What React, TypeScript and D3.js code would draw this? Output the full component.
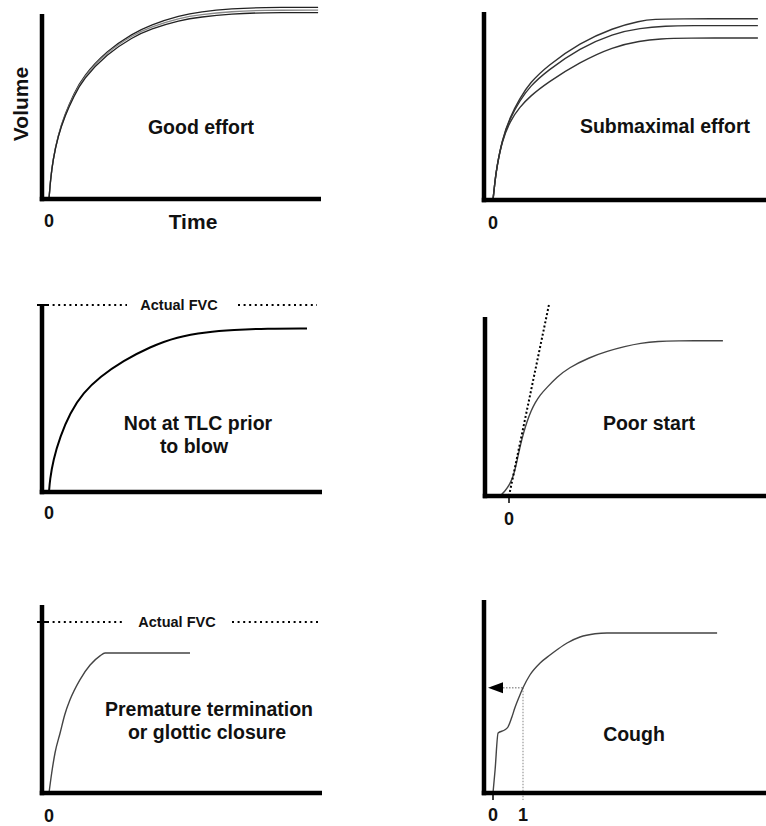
import { curveBasis, curveLinear, curveMonotoneX, line, scaleLinear } from "d3";
import type { CurveFactory } from "d3";
import type { ReactElement } from "react";

// [seconds, litres]
type Pt = readonly [number, number];

const goodEffortA: Pt[] = [
  [0, 0], [0.05, 0.48], [0.13, 0.98], [0.3, 1.59], [0.53, 2.12], [0.83, 2.63], [1.13, 3.06],
  [1.93, 3.71], [2.8, 4.14], [3.37, 4.35], [4.37, 4.59], [5.03, 4.68], [6.13, 4.76], [7.03, 4.79], [8.97, 4.79],
];
const goodEffortB: Pt[] = [
  [0, 0], [0.05, 0.475], [0.13, 0.975], [0.3, 1.575], [0.53, 2.1], [0.83, 2.6], [1.13, 3.03],
  [1.93, 3.68], [2.8, 4.1], [3.37, 4.3], [4.37, 4.53], [5.03, 4.61], [6.13, 4.69], [7.03, 4.72], [8.97, 4.72],
];
const goodEffortC: Pt[] = [
  [0, 0], [0.05, 0.47], [0.13, 0.97], [0.3, 1.565], [0.53, 2.08], [0.83, 2.57], [1.13, 2.99],
  [1.93, 3.63], [2.8, 4.05], [3.37, 4.25], [4.37, 4.47], [5.03, 4.55], [6.13, 4.63], [7.03, 4.66], [8.97, 4.66],
];

const submaxUpper: Pt[] = [
  [0, 0], [0.07, 0.5], [0.13, 0.83], [0.3, 1.5], [0.57, 2.08], [0.9, 2.55], [1.23, 2.93],
  [1.8, 3.35], [2.9, 3.93], [4.0, 4.3], [4.9, 4.48], [5.4, 4.52], [6.0, 4.53], [8.83, 4.53],
];
const submaxMiddle: Pt[] = [
  [0, 0], [0.07, 0.5], [0.13, 0.83], [0.3, 1.49], [0.57, 2.05], [0.9, 2.49], [1.23, 2.84],
  [1.8, 3.23], [2.9, 3.8], [4.0, 4.16], [4.9, 4.3], [5.8, 4.35], [6.4, 4.36], [8.83, 4.36],
];
const submaxLower: Pt[] = [
  [0, 0], [0.07, 0.5], [0.13, 0.83], [0.3, 1.47], [0.57, 1.98], [0.9, 2.33], [1.23, 2.59],
  [1.8, 2.93], [2.9, 3.45], [4.0, 3.83], [4.9, 3.98], [5.6, 4.03], [6.3, 4.05], [8.83, 4.05],
];

const notAtTlc: Pt[] = [
  [0, 0], [0.03, 0.3], [0.14, 0.8], [0.37, 1.38], [0.7, 1.98], [1.14, 2.48], [1.7, 2.88],
  [2.47, 3.28], [3.37, 3.63], [4.26, 3.88], [5.26, 4.0], [6.13, 4.05], [7.26, 4.09], [8.6, 4.09],
];
const notAtTlcFvc = 4.675;

const poorStart: Pt[] = [
  [-0.3, 0], [-0.13, 0.12], [0.03, 0.3], [0.15, 0.5], [0.27, 0.88], [0.37, 1.25], [0.5, 1.62],
  [0.6, 1.86], [0.73, 2.12], [0.87, 2.33], [1.03, 2.52], [1.27, 2.72], [1.6, 2.97], [1.97, 3.2],
  [2.7, 3.47], [3.27, 3.62], [3.87, 3.74], [4.37, 3.82], [5.0, 3.87], [5.47, 3.88], [7.13, 3.88],
];
const poorStartBackExtrapolation: Pt[] = [[0, 0], [1.33, 4.775]];

const premature: Pt[] = [
  [0, 0], [0.09, 0.5], [0.2, 1.0], [0.37, 1.5], [0.53, 1.97], [0.7, 2.33], [1.03, 2.83],
  [1.37, 3.2], [1.7, 3.43], [1.87, 3.5], [4.7, 3.5],
];
const prematureFvc = 4.275;

const cough: Pt[] = [
  [0, 0], [0.07, 0.58], [0.17, 1.5], [0.4, 1.58], [0.5, 1.65], [0.63, 1.9], [0.73, 2.13],
  [0.87, 2.4], [1.0, 2.63], [1.23, 2.95], [1.57, 3.25], [1.9, 3.45], [2.17, 3.6], [2.47, 3.75],
  [2.9, 3.9], [3.4, 3.98], [3.8, 4.0], [7.47, 4.0],
];
const coughFev1: Pt = [1, 2.63];

// layout: every panel shares 30 px per second and 40 px per litre
const T_MAX = 9;
const V_MAX = 5;

type Frame = Readonly<{ left: number; right: number; top: number; bottom: number; zeroX: number }>;

const frames: Record<string, Frame> = {
  good: { left: 42, right: 321, top: 14, bottom: 199, zeroX: 49 },
  sub: { left: 484, right: 766, top: 12, bottom: 200, zeroX: 493 },
  tlc: { left: 42, right: 322, top: 305, bottom: 492, zeroX: 49 },
  poor: { left: 485, right: 766, top: 317, bottom: 496, zeroX: 509 },
  prem: { left: 42, right: 322, top: 605, bottom: 793, zeroX: 49 },
  cough: { left: 484, right: 766, top: 600, bottom: 793, zeroX: 493 },
};

const FONT = "'Liberation Sans', Arial, Helvetica, sans-serif";
const INK = "#111";

const scalesFor = (f: Frame, curve: CurveFactory = curveBasis) => {
  const x = scaleLinear().domain([0, T_MAX]).range([f.zeroX, f.zeroX + T_MAX * 30]);
  const y = scaleLinear().domain([0, V_MAX]).range([f.bottom, f.bottom - V_MAX * 40]);
  const path = line<Pt>()
    .x((d) => x(d[0]))
    .y((d) => y(d[1]))
    .curve(curve);
  return { x, y, path };
};

const Axes = ({ f }: { f: Frame }): ReactElement => (
  <g stroke="#000" strokeWidth={4.5}>
    <line x1={f.left} x2={f.left} y1={f.top} y2={f.bottom + 2.25} />
    <line x1={f.left - 2.25} x2={f.right} y1={f.bottom} y2={f.bottom} />
  </g>
);

const Label = (p: { x: number; y: number; size?: number; children: string }): ReactElement => (
  <text
    x={p.x}
    y={p.y}
    textAnchor="middle"
    dominantBaseline="central"
    fontFamily={FONT}
    fontWeight="bold"
    fontSize={p.size ?? 19.5}
    fill={INK}
  >
    {p.children}
  </text>
);

const FvcLine = (p: { f: Frame; v: number; segs: [number, number][]; textX: number }): ReactElement => {
  const { y } = scalesFor(p.f);
  const yy = y(p.v);
  return (
    <g>
      <line x1={p.f.left - 5} x2={p.f.left + 5} y1={yy} y2={yy} stroke="#000" strokeWidth={2} />
      {p.segs.map(([a, b]) => (
        <line key={a} x1={a} x2={b} y1={yy} y2={yy} stroke="#000" strokeWidth={2} strokeDasharray="2 3.6" />
      ))}
      <Label x={p.textX} y={yy} size={14.5}>Actual FVC</Label>
    </g>
  );
};

const GoodPanel = (): ReactElement => {
  const f = frames.good;
  const { path } = scalesFor(f);
  return (
    <g>
      {[goodEffortA, goodEffortB, goodEffortC].map((d, i) => (
        <path key={i} d={path(d) ?? ""} fill="none" stroke={i === 1 ? "#888" : "#222"} strokeWidth={1.3} />
      ))}
      <Axes f={f} />
      <text
        transform="translate(20,104) rotate(-90)"
        textAnchor="middle"
        dominantBaseline="central"
        fontFamily={FONT}
        fontWeight="bold"
        fontSize={21}
        fill={INK}
      >
        Volume
      </text>
      <Label x={193} y={221} size={21}>Time</Label>
      <Label x={f.zeroX} y={221} size={18}>0</Label>
      <Label x={201} y={127}>Good effort</Label>
    </g>
  );
};

const SubPanel = (): ReactElement => {
  const f = frames.sub;
  const { path } = scalesFor(f);
  return (
    <g>
      {[submaxUpper, submaxMiddle, submaxLower].map((d, i) => (
        <path key={i} d={path(d) ?? ""} fill="none" stroke="#333" strokeWidth={1.4} />
      ))}
      <Axes f={f} />
      <Label x={f.zeroX} y={223} size={18}>0</Label>
      <Label x={665} y={126}>Submaximal effort</Label>
    </g>
  );
};

const TlcPanel = (): ReactElement => {
  const f = frames.tlc;
  const { path } = scalesFor(f);
  return (
    <g>
      <path d={path(notAtTlc) ?? ""} fill="none" stroke="#000" strokeWidth={2} />
      <FvcLine f={f} v={notAtTlcFvc} segs={[[47, 127], [238, 317]]} textX={179} />
      <Axes f={f} />
      <Label x={f.zeroX} y={513} size={18}>0</Label>
      <Label x={198} y={423}>Not at TLC prior</Label>
      <Label x={194} y={446}>to blow</Label>
    </g>
  );
};

const PoorPanel = (): ReactElement => {
  const f = frames.poor;
  const { x, path } = scalesFor(f);
  const straight = scalesFor(f, curveLinear).path;
  return (
    <g>
      <path d={path(poorStart) ?? ""} fill="none" stroke="#444" strokeWidth={1.4} />
      <path
        d={straight(poorStartBackExtrapolation) ?? ""}
        fill="none"
        stroke="#000"
        strokeWidth={2}
        strokeDasharray="2 2.2"
      />
      <Axes f={f} />
      <line x1={x(0)} x2={x(0)} y1={f.bottom} y2={f.bottom + 7} stroke="#000" strokeWidth={1.5} />
      <Label x={x(0)} y={519} size={18}>0</Label>
      <Label x={649} y={423}>Poor start</Label>
    </g>
  );
};

const PremPanel = (): ReactElement => {
  const f = frames.prem;
  const { path } = scalesFor(f, curveMonotoneX);
  return (
    <g>
      <path d={path(premature) ?? ""} fill="none" stroke="#444" strokeWidth={1.4} />
      <FvcLine f={f} v={prematureFvc} segs={[[47, 125], [232, 320]]} textX={177} />
      <Axes f={f} />
      <Label x={f.zeroX} y={816} size={18}>0</Label>
      <Label x={209} y={709}>Premature termination</Label>
      <Label x={207} y={732}>or glottic closure</Label>
    </g>
  );
};

const CoughPanel = (): ReactElement => {
  const f = frames.cough;
  const { x, y, path } = scalesFor(f, curveMonotoneX);
  const fx = x(coughFev1[0]);
  const fy = y(coughFev1[1]);
  const tip = f.left + 4;
  const base = tip + 15;
  return (
    <g>
      <line x1={fx} x2={fx} y1={fy} y2={f.bottom + 7} stroke="#999" strokeWidth={1.2} strokeDasharray="1.5 1.5" />
      <line x1={base} x2={fx} y1={fy} y2={fy} stroke="#999" strokeWidth={1.5} strokeDasharray="1.5 1.5" />
      <polygon points={`${tip},${fy} ${base},${fy - 5.5} ${base},${fy + 5.5}`} fill="#000" />
      <path d={path(cough) ?? ""} fill="none" stroke="#444" strokeWidth={1.4} />
      <Axes f={f} />
      <line x1={x(0)} x2={x(0)} y1={f.bottom} y2={f.bottom + 7} stroke="#000" strokeWidth={1.5} />
      <Label x={x(0)} y={815} size={18}>0</Label>
      <Label x={fx} y={815} size={18}>1</Label>
      <Label x={634} y={734}>Cough</Label>
    </g>
  );
};

export default function App(): ReactElement {
  return (
    <svg
      width={766}
      height={826}
      viewBox="0 0 766 826"
      style={{ position: "absolute", left: 0, top: 0, background: "#fff" }}
    >
      <rect width={766} height={826} fill="#fff" />
      <GoodPanel />
      <SubPanel />
      <TlcPanel />
      <PoorPanel />
      <PremPanel />
      <CoughPanel />
    </svg>
  );
}
